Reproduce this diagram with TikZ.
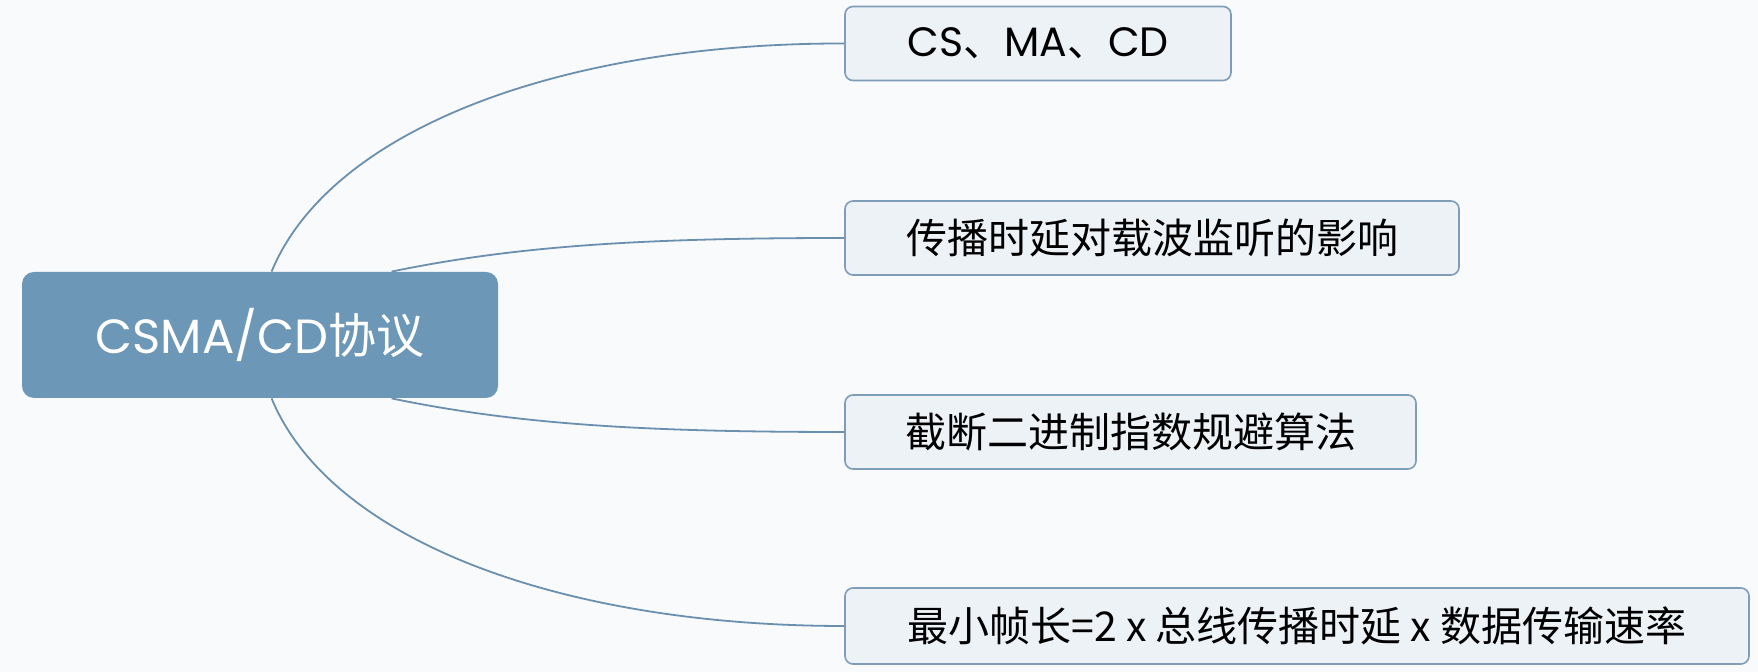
\documentclass[tikz,border=0pt]{standalone}
\usepackage{fontspec}
\setmainfont{Noto Sans CJK SC}
\newfontfamily\roundfont{Poppins}
\usepackage{tikz}
\definecolor{hubblue}{HTML}{6D97B7}
\definecolor{leaffill}{HTML}{EDF2F7}
\definecolor{leafline}{HTML}{7F9DB9}
\definecolor{linkblue}{HTML}{6B8FAE}
\definecolor{paper}{HTML}{F8FAFC}
\tikzset{
  hub/.style={fill=hubblue,rounded corners=6pt,text=white,inner sep=0pt,
    font=\fontsize{24}{28}\selectfont},
  leaf/.style={draw=leafline,fill=leaffill,line width=0.8pt,rounded corners=4pt,
    inner sep=0pt,minimum height=37pt,font=\fontsize{20.5}{24}\selectfont},
  link/.style={draw=linkblue,line width=0.9pt}
}

\begin{document}
\begin{tikzpicture}[x=0.5pt,y=-0.5pt]
			\useasboundingbox (0,0) rectangle (1758,672);
			\fill[paper] (0,0) rectangle (1758,672);
			% hub
			\node[hub,minimum width=238pt,minimum height=63pt] (hub) at (260,335) {{\roundfont CSMA/CD}协议};
			% leaves
			\node[leaf,minimum width=193pt] (cs) at (1038,43.5) {{\roundfont CS}、{\roundfont MA}、{\roundfont CD}};
			\node[leaf,minimum width=307pt] (delay) at (1152,238) {传播时延对载波监听的影响};
			\node[leaf,minimum width=285.5pt] (backoff) at (1130.5,432) {截断二进制指数规避算法};
			\node[leaf,minimum width=452pt,minimum height=38pt] (frame) at (1297,626) {最小帧长=2 x 总线传播时延 x 数据传输速率};
			% where the links leave the hub
			\coordinate (hubtl) at ([xshift=125pt]hub.north west);
			\coordinate (hubtr) at ([xshift=185pt]hub.north west);
			\coordinate (hubbr) at ([xshift=185pt]hub.south west);
			\coordinate (hubbl) at ([xshift=125pt]hub.south west);
			% links
			\draw[link] (hubtl) .. controls (330,130) and (560,43) .. (cs.west);
			\draw[link] (hubtr) .. controls (520,245) and (650,238) .. (delay.west);
			\draw[link] (hubbr) .. controls (520,425) and (650,432) .. (backoff.west);
			\draw[link] (hubbl) .. controls (330,540) and (560,626) .. (frame.west);
		\end{tikzpicture}
\end{document}
